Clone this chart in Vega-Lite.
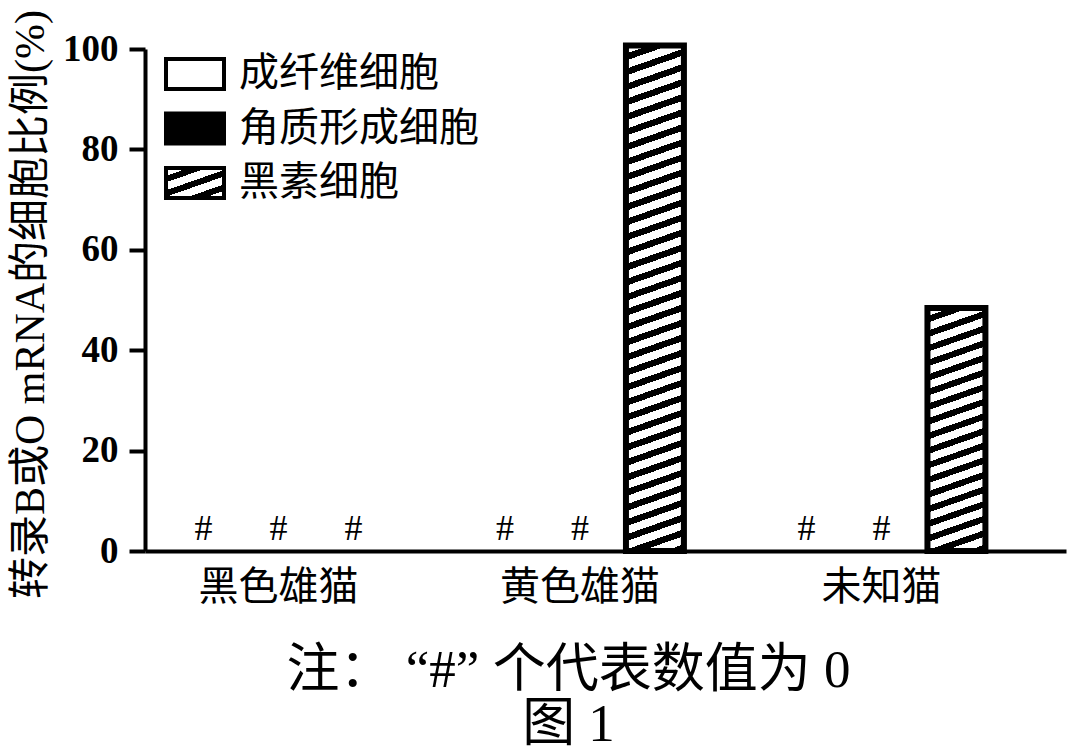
{
  "$schema": "https://vega.github.io/schema/vega-lite/v6.json",
  "width": 921,
  "height": 502,
  "autosize": {"type": "none"},
  "padding": {"left": 145, "top": 49, "right": 14, "bottom": 201},
  "background": "white",
  "data": {
    "values": [
      {"cat": "黑色雄猫", "cell": "成纤维细胞", "value": 0},
      {"cat": "黑色雄猫", "cell": "角质形成细胞", "value": 0},
      {"cat": "黑色雄猫", "cell": "黑素细胞", "value": 0},
      {"cat": "黄色雄猫", "cell": "成纤维细胞", "value": 0},
      {"cat": "黄色雄猫", "cell": "角质形成细胞", "value": 0},
      {"cat": "黄色雄猫", "cell": "黑素细胞", "value": 100.7},
      {"cat": "未知猫", "cell": "成纤维细胞", "value": 0},
      {"cat": "未知猫", "cell": "角质形成细胞", "value": 0},
      {"cat": "未知猫", "cell": "黑素细胞", "value": 48.4}
    ]
  },
  "encoding": {
    "x": {
      "field": "cat",
      "type": "nominal",
      "sort": ["黑色雄猫", "黄色雄猫", "未知猫"],
      "scale": {"paddingInner": 0.254, "paddingOuter": 0.1544, "align": 0.2256},
      "axis": {
        "title": ["注： “#” 个代表数值为 0", "图 1"],
        "domainWidth": 4,
        "domainColor": "black",
        "ticks": false,
        "labelAngle": 0,
        "labelFont": "Liberation Serif, Noto Sans CJK SC",
        "labelFontSize": 40,
        "labelColor": "black",
        "labelPadding": 16,
        "titleFont": "Liberation Serif, Noto Sans CJK SC",
        "titleFontSize": 53,
        "titleFontWeight": "normal",
        "titleColor": "black",
        "titleLineHeight": 54,
        "titleX": 423,
        "titleY": 93,
        "titleAlign": "center",
        "titleBaseline": "top"
      }
    },
    "xOffset": {
      "field": "cell",
      "type": "nominal",
      "sort": ["成纤维细胞", "角质形成细胞", "黑素细胞"],
      "scale": {"domain": ["成纤维细胞", "角质形成细胞", "黑素细胞"], "paddingInner": 0.227, "paddingOuter": 0.1133}
    },
    "y": {
      "field": "value",
      "type": "quantitative",
      "scale": {"domain": [0, 100], "nice": false},
      "axis": {
        "title": "转录B或O mRNA的细胞比例(%)",
        "values": [0, 20, 40, 60, 80, 100],
        "grid": false,
        "domainWidth": 4,
        "domainColor": "black",
        "tickWidth": 4,
        "tickSize": 16,
        "tickColor": "black",
        "labelFont": "Liberation Serif",
        "labelFontSize": 37,
        "labelFontWeight": "bold",
        "labelColor": "black",
        "labelPadding": 11,
        "labelFlush": false,
        "titleFont": "Liberation Serif, Noto Sans CJK SC",
        "titleFontSize": 42,
        "titleFontWeight": "normal",
        "titleColor": "black",
        "titleAngle": -90,
        "titleX": -115,
        "titleY": 255,
        "titleAlign": "center",
        "titleBaseline": "middle"
      }
    }
  },
  "layer": [
    {
      "transform": [{"filter": "datum.value > 0"}],
      "mark": {"type": "bar", "stroke": "black", "strokeWidth": 6},
      "encoding": {
        "fill": {
          "field": "cell",
          "type": "nominal",
          "scale": {
            "domain": ["成纤维细胞", "角质形成细胞", "黑素细胞"],
            "range": [
              "white",
              "black",
              {"expr": "{gradient: 'linear', x1: 0, y1: 0, x2: 0.7783, y2: 1.15, stops: [{offset: 0, color: '#fff'}, {offset: 0.1571, color: '#fff'}, {offset: 0.1571, color: '#000'}, {offset: 0.2857, color: '#000'}, {offset: 0.2857, color: '#fff'}, {offset: 0.4429, color: '#fff'}, {offset: 0.4429, color: '#000'}, {offset: 0.5714, color: '#000'}, {offset: 0.5714, color: '#fff'}, {offset: 0.7286, color: '#fff'}, {offset: 0.7286, color: '#000'}, {offset: 0.8571, color: '#000'}, {offset: 0.8571, color: '#fff'}, {offset: 1, color: '#fff'}]}"}
            ]
          },
          "legend": {
            "title": null,
            "orient": "none",
            "legendX": 23,
            "legendY": -2,
            "padding": 0,
            "symbolType": "M-1.16,-0.6H1.16V0.6H-1.16Z",
            "symbolSize": 2500,
            "symbolStrokeColor": "black",
            "symbolStrokeWidth": 4,
            "labelFont": "Liberation Serif, Noto Sans CJK SC",
            "labelFontSize": 40,
            "labelColor": "black",
            "labelOffset": 17,
            "labelLimit": 400,
            "rowPadding": 4.5
          },
          "condition": [
            {
              "test": "datum.cat === '黄色雄猫'",
              "value": {
                "gradient": "linear", "x1": 0, "y1": 0, "x2": 0.0417, "y2": 1.0385,
                "stops": [
                  {"offset": 0, "color": "#fff"}, {"offset": 0.0157, "color": "#fff"}, {"offset": 0.0157, "color": "#000"}, {"offset": 0.0286, "color": "#000"},
                  {"offset": 0.0286, "color": "#fff"}, {"offset": 0.0443, "color": "#fff"}, {"offset": 0.0443, "color": "#000"}, {"offset": 0.0571, "color": "#000"},
                  {"offset": 0.0571, "color": "#fff"}, {"offset": 0.0729, "color": "#fff"}, {"offset": 0.0729, "color": "#000"}, {"offset": 0.0857, "color": "#000"},
                  {"offset": 0.0857, "color": "#fff"}, {"offset": 0.1014, "color": "#fff"}, {"offset": 0.1014, "color": "#000"}, {"offset": 0.1143, "color": "#000"},
                  {"offset": 0.1143, "color": "#fff"}, {"offset": 0.13, "color": "#fff"}, {"offset": 0.13, "color": "#000"}, {"offset": 0.1429, "color": "#000"},
                  {"offset": 0.1429, "color": "#fff"}, {"offset": 0.1586, "color": "#fff"}, {"offset": 0.1586, "color": "#000"}, {"offset": 0.1714, "color": "#000"},
                  {"offset": 0.1714, "color": "#fff"}, {"offset": 0.1871, "color": "#fff"}, {"offset": 0.1871, "color": "#000"}, {"offset": 0.2, "color": "#000"},
                  {"offset": 0.2, "color": "#fff"}, {"offset": 0.2157, "color": "#fff"}, {"offset": 0.2157, "color": "#000"}, {"offset": 0.2286, "color": "#000"},
                  {"offset": 0.2286, "color": "#fff"}, {"offset": 0.2443, "color": "#fff"}, {"offset": 0.2443, "color": "#000"}, {"offset": 0.2571, "color": "#000"},
                  {"offset": 0.2571, "color": "#fff"}, {"offset": 0.2729, "color": "#fff"}, {"offset": 0.2729, "color": "#000"}, {"offset": 0.2857, "color": "#000"},
                  {"offset": 0.2857, "color": "#fff"}, {"offset": 0.3014, "color": "#fff"}, {"offset": 0.3014, "color": "#000"}, {"offset": 0.3143, "color": "#000"},
                  {"offset": 0.3143, "color": "#fff"}, {"offset": 0.33, "color": "#fff"}, {"offset": 0.33, "color": "#000"}, {"offset": 0.3429, "color": "#000"},
                  {"offset": 0.3429, "color": "#fff"}, {"offset": 0.3586, "color": "#fff"}, {"offset": 0.3586, "color": "#000"}, {"offset": 0.3714, "color": "#000"},
                  {"offset": 0.3714, "color": "#fff"}, {"offset": 0.3871, "color": "#fff"}, {"offset": 0.3871, "color": "#000"}, {"offset": 0.4, "color": "#000"},
                  {"offset": 0.4, "color": "#fff"}, {"offset": 0.4157, "color": "#fff"}, {"offset": 0.4157, "color": "#000"}, {"offset": 0.4286, "color": "#000"},
                  {"offset": 0.4286, "color": "#fff"}, {"offset": 0.4443, "color": "#fff"}, {"offset": 0.4443, "color": "#000"}, {"offset": 0.4571, "color": "#000"},
                  {"offset": 0.4571, "color": "#fff"}, {"offset": 0.4729, "color": "#fff"}, {"offset": 0.4729, "color": "#000"}, {"offset": 0.4857, "color": "#000"},
                  {"offset": 0.4857, "color": "#fff"}, {"offset": 0.5014, "color": "#fff"}, {"offset": 0.5014, "color": "#000"}, {"offset": 0.5143, "color": "#000"},
                  {"offset": 0.5143, "color": "#fff"}, {"offset": 0.53, "color": "#fff"}, {"offset": 0.53, "color": "#000"}, {"offset": 0.5429, "color": "#000"},
                  {"offset": 0.5429, "color": "#fff"}, {"offset": 0.5586, "color": "#fff"}, {"offset": 0.5586, "color": "#000"}, {"offset": 0.5714, "color": "#000"},
                  {"offset": 0.5714, "color": "#fff"}, {"offset": 0.5871, "color": "#fff"}, {"offset": 0.5871, "color": "#000"}, {"offset": 0.6, "color": "#000"},
                  {"offset": 0.6, "color": "#fff"}, {"offset": 0.6157, "color": "#fff"}, {"offset": 0.6157, "color": "#000"}, {"offset": 0.6286, "color": "#000"},
                  {"offset": 0.6286, "color": "#fff"}, {"offset": 0.6443, "color": "#fff"}, {"offset": 0.6443, "color": "#000"}, {"offset": 0.6571, "color": "#000"},
                  {"offset": 0.6571, "color": "#fff"}, {"offset": 0.6729, "color": "#fff"}, {"offset": 0.6729, "color": "#000"}, {"offset": 0.6857, "color": "#000"},
                  {"offset": 0.6857, "color": "#fff"}, {"offset": 0.7014, "color": "#fff"}, {"offset": 0.7014, "color": "#000"}, {"offset": 0.7143, "color": "#000"},
                  {"offset": 0.7143, "color": "#fff"}, {"offset": 0.73, "color": "#fff"}, {"offset": 0.73, "color": "#000"}, {"offset": 0.7429, "color": "#000"},
                  {"offset": 0.7429, "color": "#fff"}, {"offset": 0.7586, "color": "#fff"}, {"offset": 0.7586, "color": "#000"}, {"offset": 0.7714, "color": "#000"},
                  {"offset": 0.7714, "color": "#fff"}, {"offset": 0.7871, "color": "#fff"}, {"offset": 0.7871, "color": "#000"}, {"offset": 0.8, "color": "#000"},
                  {"offset": 0.8, "color": "#fff"}, {"offset": 0.8157, "color": "#fff"}, {"offset": 0.8157, "color": "#000"}, {"offset": 0.8286, "color": "#000"},
                  {"offset": 0.8286, "color": "#fff"}, {"offset": 0.8443, "color": "#fff"}, {"offset": 0.8443, "color": "#000"}, {"offset": 0.8571, "color": "#000"},
                  {"offset": 0.8571, "color": "#fff"}, {"offset": 0.8729, "color": "#fff"}, {"offset": 0.8729, "color": "#000"}, {"offset": 0.8857, "color": "#000"},
                  {"offset": 0.8857, "color": "#fff"}, {"offset": 0.9014, "color": "#fff"}, {"offset": 0.9014, "color": "#000"}, {"offset": 0.9143, "color": "#000"},
                  {"offset": 0.9143, "color": "#fff"}, {"offset": 0.93, "color": "#fff"}, {"offset": 0.93, "color": "#000"}, {"offset": 0.9429, "color": "#000"},
                  {"offset": 0.9429, "color": "#fff"}, {"offset": 0.9586, "color": "#fff"}, {"offset": 0.9586, "color": "#000"}, {"offset": 0.9714, "color": "#000"},
                  {"offset": 0.9714, "color": "#fff"}, {"offset": 0.9871, "color": "#fff"}, {"offset": 0.9871, "color": "#000"}, {"offset": 1, "color": "#000"}
                ]
              }
            },
            {
              "test": "datum.cat === '未知猫'",
              "value": {
                "gradient": "linear", "x1": 0, "y1": 0, "x2": 0.0899, "y2": 1.076,
                "stops": [
                  {"offset": 0, "color": "#fff"}, {"offset": 0.0306, "color": "#fff"}, {"offset": 0.0306, "color": "#000"}, {"offset": 0.0556, "color": "#000"},
                  {"offset": 0.0556, "color": "#fff"}, {"offset": 0.0861, "color": "#fff"}, {"offset": 0.0861, "color": "#000"}, {"offset": 0.1111, "color": "#000"},
                  {"offset": 0.1111, "color": "#fff"}, {"offset": 0.1417, "color": "#fff"}, {"offset": 0.1417, "color": "#000"}, {"offset": 0.1667, "color": "#000"},
                  {"offset": 0.1667, "color": "#fff"}, {"offset": 0.1972, "color": "#fff"}, {"offset": 0.1972, "color": "#000"}, {"offset": 0.2222, "color": "#000"},
                  {"offset": 0.2222, "color": "#fff"}, {"offset": 0.2528, "color": "#fff"}, {"offset": 0.2528, "color": "#000"}, {"offset": 0.2778, "color": "#000"},
                  {"offset": 0.2778, "color": "#fff"}, {"offset": 0.3083, "color": "#fff"}, {"offset": 0.3083, "color": "#000"}, {"offset": 0.3333, "color": "#000"},
                  {"offset": 0.3333, "color": "#fff"}, {"offset": 0.3639, "color": "#fff"}, {"offset": 0.3639, "color": "#000"}, {"offset": 0.3889, "color": "#000"},
                  {"offset": 0.3889, "color": "#fff"}, {"offset": 0.4194, "color": "#fff"}, {"offset": 0.4194, "color": "#000"}, {"offset": 0.4444, "color": "#000"},
                  {"offset": 0.4444, "color": "#fff"}, {"offset": 0.475, "color": "#fff"}, {"offset": 0.475, "color": "#000"}, {"offset": 0.5, "color": "#000"},
                  {"offset": 0.5, "color": "#fff"}, {"offset": 0.5306, "color": "#fff"}, {"offset": 0.5306, "color": "#000"}, {"offset": 0.5556, "color": "#000"},
                  {"offset": 0.5556, "color": "#fff"}, {"offset": 0.5861, "color": "#fff"}, {"offset": 0.5861, "color": "#000"}, {"offset": 0.6111, "color": "#000"},
                  {"offset": 0.6111, "color": "#fff"}, {"offset": 0.6417, "color": "#fff"}, {"offset": 0.6417, "color": "#000"}, {"offset": 0.6667, "color": "#000"},
                  {"offset": 0.6667, "color": "#fff"}, {"offset": 0.6972, "color": "#fff"}, {"offset": 0.6972, "color": "#000"}, {"offset": 0.7222, "color": "#000"},
                  {"offset": 0.7222, "color": "#fff"}, {"offset": 0.7528, "color": "#fff"}, {"offset": 0.7528, "color": "#000"}, {"offset": 0.7778, "color": "#000"},
                  {"offset": 0.7778, "color": "#fff"}, {"offset": 0.8083, "color": "#fff"}, {"offset": 0.8083, "color": "#000"}, {"offset": 0.8333, "color": "#000"},
                  {"offset": 0.8333, "color": "#fff"}, {"offset": 0.8639, "color": "#fff"}, {"offset": 0.8639, "color": "#000"}, {"offset": 0.8889, "color": "#000"},
                  {"offset": 0.8889, "color": "#fff"}, {"offset": 0.9194, "color": "#fff"}, {"offset": 0.9194, "color": "#000"}, {"offset": 0.9444, "color": "#000"},
                  {"offset": 0.9444, "color": "#fff"}, {"offset": 0.975, "color": "#fff"}, {"offset": 0.975, "color": "#000"}, {"offset": 1, "color": "#000"}
                ]
              }
            }
          ]
        }
      }
    },
    {
      "transform": [{"filter": "datum.value == 0"}],
      "mark": {
        "type": "text",
        "text": "#",
        "font": "Liberation Serif",
        "fontSize": 36,
        "color": "black",
        "baseline": "alphabetic",
        "dy": -11
      }
    }
  ],
  "config": {
    "view": {"stroke": null},
    "axis": {"grid": false}
  }
}
